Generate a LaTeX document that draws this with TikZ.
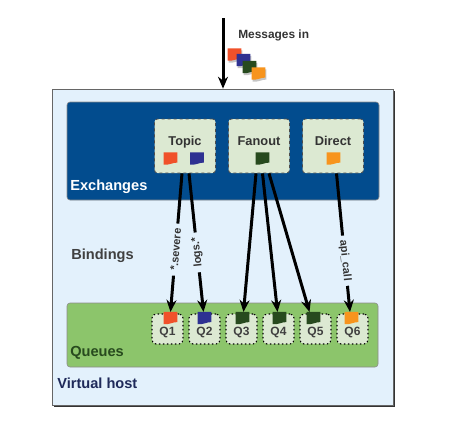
\documentclass[tikz,border=0pt]{standalone}
\usepackage{fontspec}
\setmainfont{Liberation Sans}
\usetikzlibrary{shadows,arrows.meta}
\definecolor{hostblue}{HTML}{E3F1FC}
\definecolor{exchblue}{HTML}{024C8E}
\definecolor{boxgreen}{HTML}{DCE9D2}
\definecolor{queuegreen}{HTML}{8CC56B}
\definecolor{msgred}{HTML}{F0512A}
\definecolor{msgblue}{HTML}{2E3192}
\definecolor{msggreen}{HTML}{274A1E}
\definecolor{msgorange}{HTML}{F7941D}
\definecolor{hostnavy}{HTML}{1F2A5A}
\tikzset{
  vhost/.style={
    rectangle,
    minimum width=341pt,
    minimum height=316pt,
    draw=black!60,
    fill=hostblue,
    drop shadow={shadow xshift=1.5pt,shadow yshift=-2pt,fill=black!80,opacity=1}
    },
  panel/.style={
    rectangle,
    rounded corners=3pt,
    draw=black!45,
    },
  exchange/.style={
    rectangle,
    rounded corners=3pt,
    minimum width=61pt,
    minimum height=54pt,
    inner sep=0pt,
    text depth=10pt,
    font=\bfseries\fontsize{12.8}{14}\selectfont,
    text=black!80,
    draw=black!70,
    dashed,
    thick,
    fill=boxgreen
    },
  queue/.style={
    rectangle,
    rounded corners=4pt,
    minimum width=31pt,
    minimum height=30pt,
    inner sep=0pt,
    text height=15pt,
    font=\bfseries\fontsize{12}{13}\selectfont,
    text=black!75,
    draw=black,
    dash pattern=on 1.5pt off 2.5pt,
    line width=1.1pt,
    fill=boxgreen
    },
  flagbox/.style={rectangle, minimum width=13pt, minimum height=11.5pt, inner sep=0pt},
  caption/.style={font=\bfseries\fontsize{14.6}{16}\selectfont, inner sep=0pt, anchor=west},
  bindlabel/.style={
    font=\bfseries\fontsize{11}{12}\selectfont,
    text=black!80,
    fill=hostblue,
    inner xsep=5pt,
    inner ysep=1pt,
    sloped
    },
  arrow/.style={line width=3pt,-{Stealth[length=12pt,width=10pt]}},
}
% a message: the node carries the name, the path gives the curled lower edge
\newcommand{\msgflag}[4][]{%
  \node[flagbox] (#2) at (#4) {};
  \fill[#3,#1] (#2.north west) -- (#2.north east) -- ([yshift=2pt]#2.south east)
    .. controls ([xshift=-5pt,yshift=2pt]#2.south east) and ([xshift=5pt,yshift=-1pt]#2.south west) .. (#2.south west) -- cycle;
}
\begin{document}
\begin{tikzpicture}[
            x = 1pt,
            y = -1pt,
            > = Stealth,
            node distance = 74pt,
            semithick
        ]
         \useasboundingbox (0,0) rectangle (467,429);

         \node[vhost] (host) at (222.5,247) {};
         \node[panel,fill=exchblue,minimum width=312pt,minimum height=98pt] (exch) at (223,151) {};
         \node[panel,fill=queuegreen,minimum width=311pt,minimum height=64pt] (queues) at (222.5,335) {};

         % exchanges
         \node[exchange] (topic) at (185,146) {Topic};
         \node[exchange] (fanout) [right of=topic] {Fanout};
         \node[exchange] (direct) [right of=fanout] {Direct};

         % queues
         \begin{scope}[node distance=37pt]
         \node[queue] (q1) at (167.5,329) {Q1};
         \node[queue] (q2) [right of=q1] {Q2};
         \node[queue] (q3) [right of=q2] {Q3};
         \node[queue] (q4) [right of=q3] {Q4};
         \node[queue] (q5) [right of=q4] {Q5};
         \node[queue] (q6) [right of=q5] {Q6};
         \end{scope}

         % messages
         \msgflag[drop shadow={shadow xshift=1pt,shadow yshift=-2pt,fill=black!45}]{inred}{msgred}{234.5,54.5}
         \msgflag[drop shadow={shadow xshift=1pt,shadow yshift=-2pt,fill=black!45}]{inblue}{msgblue}{243.5,60}
         \msgflag[drop shadow={shadow xshift=1pt,shadow yshift=-2pt,fill=black!45}]{ingreen}{msggreen}{249.5,67}
         \msgflag[drop shadow={shadow xshift=1pt,shadow yshift=-2pt,fill=black!45}]{inorange}{msgorange}{258.5,73.5}
         \msgflag{exred}{msgred}{170.5,158.5}
         \msgflag{exblue}{msgblue}{197,158.5}
         \msgflag{exgreen}{msggreen}{262.5,158.5}
         \msgflag{exorange}{msgorange}{333.5,158.5}
         \msgflag{f1}{msgred}{170.5,318}
         \msgflag{f2}{msgblue}{204.5,318}
         \msgflag{f3}{msggreen}{242.5,318}
         \msgflag{f4}{msggreen}{279.5,318}
         \msgflag{f5}{msggreen}{313.5,318}
         \msgflag{f6}{msgorange}{351.5,318}

         % bindings
         \coordinate (in) at (223,18);
         \draw[arrow] (in) -- (in |- host.north);
         \draw[arrow] ([xshift=-3pt]topic.south) -- node[bindlabel,pos=.55] {*.severe} (f1.north);
         \draw[arrow] ([xshift=4pt]topic.south) -- node[bindlabel,pos=.57,rotate=180] {logs.*} ([xshift=-1pt]f2.north);
         \draw[arrow] ([xshift=-3pt]fanout.south) -- ([xshift=1pt]f3.north);
         \draw[arrow] ([xshift=3.5pt]fanout.south) -- ([xshift=-2pt]f4.north);
         \draw[arrow] ([xshift=10pt]fanout.south) -- ([xshift=-4pt]f5.north);
         \draw[arrow] ([xshift=3.5pt]direct.south) -- node[bindlabel,pos=.63] {api\_call} ([xshift=-1.5pt]f6.north);

         % captions
         \node[caption,text=black!80,font=\bfseries\fontsize{11.9}{13}\selectfont] (msgs) at (238,35) {Messages in};
         \node[caption,text=white] (exlabel) at (70,187) {Exchanges};
         \node[caption,text=black!75] (bindings) at (71,256) {Bindings};
         \node[caption,text=msggreen] (qlabel) at (70,353) {Queues};
         \node[caption,text=hostnavy] (hostlabel) at (57,383) {Virtual host};
  \end{tikzpicture}
\end{document}
